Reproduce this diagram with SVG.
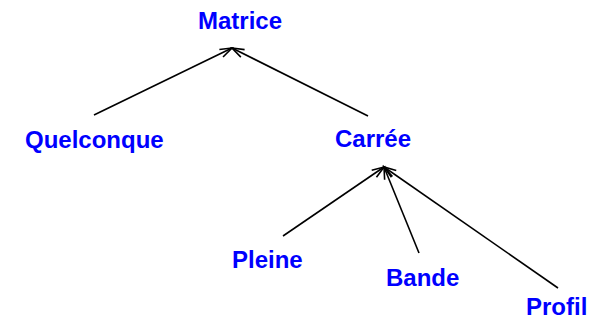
<svg xmlns="http://www.w3.org/2000/svg" width="596" height="321" viewBox="0 0 596 321">
<defs>
<marker id="arr" markerUnits="userSpaceOnUse" markerWidth="14" markerHeight="10" refX="12" refY="5" orient="auto" overflow="visible">
<path d="M 0 0.8 L 12 5 L 0 9.2" fill="none" stroke="#000" stroke-width="1.6"/>
</marker>
</defs>
<style>
.lbl{font-family:"Liberation Sans",Arial,sans-serif;font-weight:bold;font-size:24px;fill:#0000ff}
.edge{stroke:#000;stroke-width:1.6;fill:none;marker-end:url(#arr)}
</style>
<rect width="596" height="321" fill="#fff"/>
<g id="connectors">
<line class="edge" x1="94" y1="115" x2="232" y2="48"/>
<line class="edge" x1="368" y1="116" x2="232" y2="48"/>
<line class="edge" x1="283" y1="236" x2="384" y2="167"/>
<line class="edge" x1="419" y1="253" x2="384" y2="167"/>
<line class="edge" x1="558" y1="288" x2="384" y2="167"/>
</g>
<g id="matrice"><text class="lbl" x="198" y="29">Matrice</text></g>
<g id="quelconque"><text class="lbl" x="25" y="148">Quelconque</text></g>
<g id="carree"><text class="lbl" x="335" y="147">Carrée</text></g>
<g id="pleine"><text class="lbl" x="232" y="268">Pleine</text></g>
<g id="bande"><text class="lbl" x="386" y="286">Bande</text></g>
<g id="profil"><text class="lbl" x="526" y="315">Profil</text></g>
</svg>
